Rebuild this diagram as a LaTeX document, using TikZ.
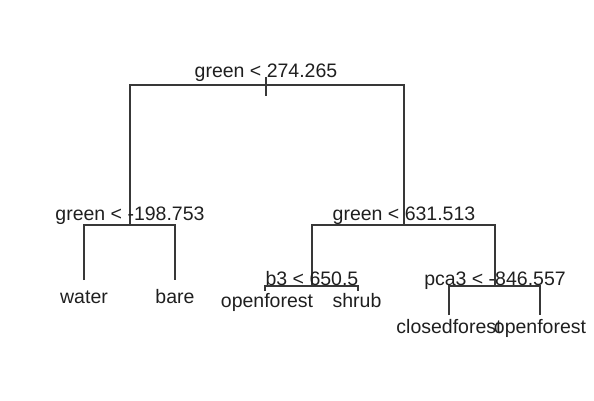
\documentclass[tikz,border=0pt]{standalone}
\usepackage{fontspec}
\setmainfont{Liberation Sans}
\begin{document}
\begin{tikzpicture}[x=1pt,y=-1pt,
                    line/.style={line width=1.4pt,draw=black!78},
                    split/.style={anchor=base,inner sep=0pt,text=black!88,
                                  font=\fontsize{19.5}{22}\selectfont},
                    leaf/.style={split}]
 \useasboundingbox (0,0) rectangle (594,401);
 % split points
 \coordinate (stubtop) at (266,77); \coordinate (stubbot) at (266,96);
 \coordinate (root) at (266,85);
 \coordinate (g1) at (130,225); \coordinate (g2) at (404,225);
 \coordinate (b3) at (312,286); \coordinate (pca3) at (495,286);
 % leaf ends
 \coordinate (water) at (84,280); \coordinate (bare) at (175,280);
 \coordinate (of1) at (265,291); \coordinate (shrub) at (358,291);
 \coordinate (cf) at (449,315); \coordinate (of2) at (540,315);
 \draw[line] (stubtop)--(stubbot);
 \draw[line] (g1) |- (root) -| (g2);
 \draw[line] (water) |- (g1) -| (bare);
 \draw[line] (b3) |- (g2) -| (pca3);
 \draw[line] (of1) |- (b3) -| (shrub);
 \draw[line] (cf) |- (pca3) -| (of2);
 \node[split] (lroot) at (266,78) {green < 274.265};
 \node[split] (lg1) at (130,220) {green < -198.753};
 \node[split] (lg2) at (404,220) {green < 631.513};
 \node[split] (lb3) at (312,285) {b3 < 650.5};
 \node[split] (lpca3) at (495,285) {pca3 < -846.557};
 \node[leaf] (lwater) at (84,303) {water};
 \node[leaf] (lbare) at (175,303) {bare};
 \node[leaf] (lof1) at (267,307) {openforest};
 \node[leaf] (lshrub) at (357,307) {shrub};
 \node[leaf] (lcf) at (449,333) {closedforest};
 \node[leaf] (lof2) at (540,333) {openforest};
\end{tikzpicture}
\end{document}
